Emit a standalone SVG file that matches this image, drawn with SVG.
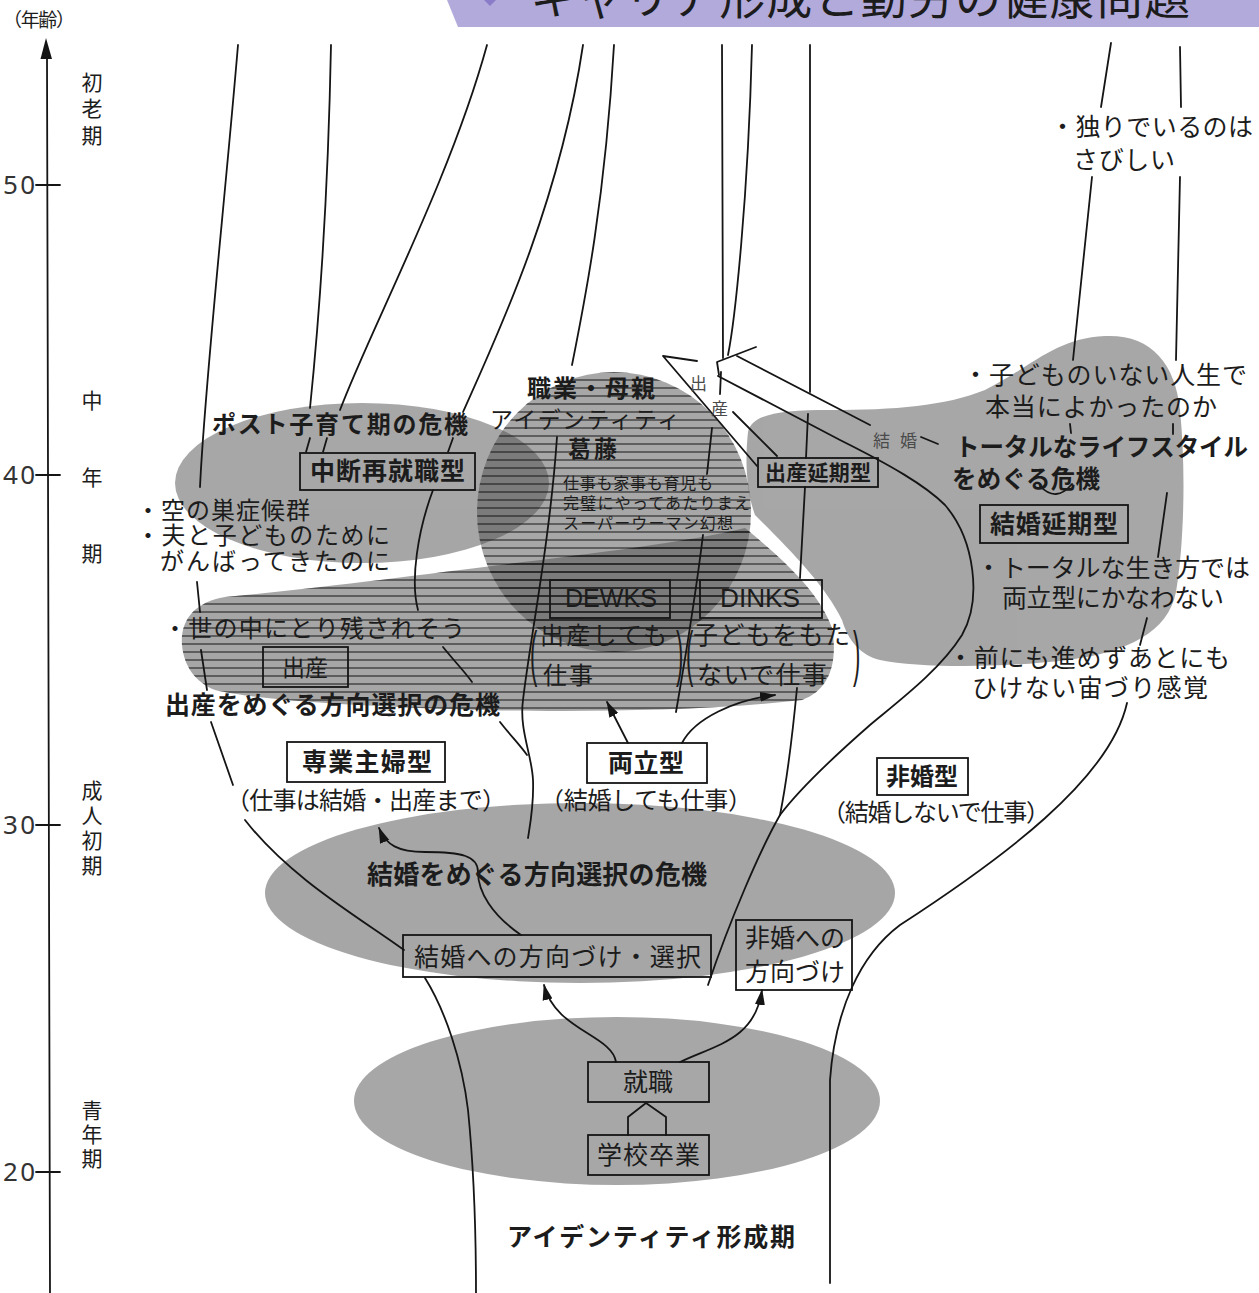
<svg xmlns="http://www.w3.org/2000/svg" xmlns:xlink="http://www.w3.org/1999/xlink" width="1259" height="1293" viewBox="0 0 1259 1293">
<defs>
<style>
.t{font-family:"Noto Sans CJK JP","Noto Sans CJK SC",sans-serif;fill:#1c1c1c}
.b{font-weight:bold}
.s{fill:#4a4a4a}
.n{font-family:"Noto Sans","Liberation Sans",sans-serif;fill:#333}
.lat{font-family:"Liberation Sans",Arial,sans-serif;fill:#1c1c1c}
.ln{fill:none;stroke:#151515;stroke-width:1.8;stroke-linecap:round;stroke-linejoin:round}
.ar{marker-end:url(#ah)}
.bx{fill:none;stroke:#151515;stroke-width:1.8}
</style>
<marker id="ah" viewBox="0 0 16 10" refX="15" refY="5" markerWidth="16" markerHeight="11" orient="auto" markerUnits="userSpaceOnUse"><path d="M0,0 L16,5 L0,10 Z" fill="#151515"/></marker>
<pattern id="hatch" width="12" height="8" patternUnits="userSpaceOnUse"><line x1="0" y1="4" x2="12" y2="4" stroke="#111" stroke-width="1.15" stroke-opacity="0.85"/></pattern>
<ellipse id="circ" cx="614" cy="512" rx="137" ry="140"/>
<path id="band" d="M182,645 C180,620 195,602 225,597 C320,588 420,575 500,565 C580,555 690,542 745,528 C790,565 820,595 832,628 C838,662 830,690 802,700 C700,712 560,712 480,710 C380,707 260,701 215,690 C195,682 184,666 182,645 Z"/>
</defs>
<rect width="1259" height="1293" fill="#ffffff"/>

<g id="title">
<polygon points="447,0 1259,0 1259,27 458,27" fill="#b2aadb"/>
<polygon points="484,0 496,0 490,6" fill="#8a7cc8"/>
<text class="t" x="530" y="14" font-size="46" textLength="660" lengthAdjust="spacing" fill="#1a1a1a">キャリア形成と勤労の健康問題</text>
</g>

<g id="zones">
<g opacity="0.5" fill="#4f4f4f">
<ellipse cx="362" cy="483" rx="187" ry="80"/>
<use xlink:href="#band"/>
<path d="M748,432 C752,414 780,410 830,410 C895,410 945,406 985,390 C1030,368 1055,338 1105,336 C1150,334 1175,362 1180,410 C1186,470 1184,545 1176,592 C1168,632 1128,652 1068,660 C1000,668 920,668 880,660 C860,655 848,640 842,620 C825,585 790,550 755,515 C746,490 745,460 748,432 Z"/>
<ellipse cx="580" cy="893" rx="315" ry="90"/>
<ellipse cx="617" cy="1101" rx="263" ry="84"/>
</g>
<g opacity="0.5" fill="#4f4f4f"><use xlink:href="#circ"/></g>
<g fill="url(#hatch)"><use xlink:href="#circ"/><use xlink:href="#band"/></g>
</g>

<g id="axis">
<path class="ln" d="M47,56 L50,1293"/>
<polygon points="46,38 40.5,59 52,59" fill="#151515"/>
<path class="ln" d="M36,185 L60,185 M36,475 L60,475 M36,825 L60,825 M36,1172 L60,1172"/>
<text class="t" x="3" y="27" font-size="19" textLength="72" lengthAdjust="spacing">（年齢）</text>
<text class="n" x="3" y="194" font-size="26" textLength="32" lengthAdjust="spacing">50</text>
<text class="n" x="3" y="484" font-size="26" textLength="32" lengthAdjust="spacing">40</text>
<text class="n" x="3" y="834" font-size="26" textLength="32" lengthAdjust="spacing">30</text>
<text class="n" x="3" y="1181" font-size="26" textLength="32" lengthAdjust="spacing">20</text>
<text class="t" font-size="21" text-anchor="middle"><tspan x="92" y="90">初</tspan><tspan x="92" y="116">老</tspan><tspan x="92" y="143">期</tspan></text>
<text class="t" font-size="21" text-anchor="middle"><tspan x="92" y="408">中</tspan><tspan x="92" y="485">年</tspan><tspan x="92" y="561">期</tspan></text>
<text class="t" font-size="21" text-anchor="middle"><tspan x="92" y="798">成</tspan><tspan x="92" y="823">人</tspan><tspan x="92" y="848">初</tspan><tspan x="92" y="873">期</tspan></text>
<text class="t" font-size="21" text-anchor="middle"><tspan x="92" y="1118">青</tspan><tspan x="92" y="1142">年</tspan><tspan x="92" y="1166">期</tspan></text>
</g>

<g id="connectors">
<path class="ln" d="M238,45 C225,200 205,380 200,487"/>
<path class="ln" d="M197,582 L200,612"/>
<path class="ln" d="M201,650 L207,690"/>
<path class="ln" d="M211,722 L233,785"/>
<path class="ln" d="M245,820 C290,878 360,918 404,950"/>
<path class="ln" d="M425,978 C445,1010 462,1060 468,1110 C474,1170 476,1230 476,1293"/>
<path class="ln" d="M331,45 C328,200 318,330 310,408"/>
<path class="ln" d="M310,438 L306,452"/>
<path class="ln" d="M487,45 C450,180 370,330 340,410"/>
<path class="ln" d="M327,438 L323,452"/>
<path class="ln" d="M583,45 C560,200 500,330 463,412"/>
<path class="ln" d="M453,438 L448,452"/>
<path class="ln" d="M433,490 C418,530 410,580 418,610"/>
<path class="ln" d="M443,647 C455,662 465,672 472,682"/>
<path class="ln" d="M500,722 C510,735 520,745 527,755"/>
<path class="ln" d="M614,45 C605,200 585,300 572,365"/>
<path class="ln" d="M557,437 C550,540 530,640 523,700 C519,730 532,755 533,780 C534,805 530,825 528,838"/>
<path class="ln" d="M722,45 L723,358"/>
<path class="ln" d="M752,45 C748,200 735,320 728,355"/>
<path class="ln" d="M756,347 L717,362 L719,375"/>
<path class="ln" d="M737,356 L870,425"/>
<path class="ln" d="M921,437 L938,444"/>
<path class="ln" d="M721,372 L720,394"/>
<path class="ln" d="M712,428 L707,474"/>
<path class="ln" d="M703,535 C695,600 685,660 676,712"/>
<path class="ln" d="M718,376 L840,440 C890,465 925,485 945,505 C975,540 982,600 962,635 C940,670 900,700 870,725 C830,760 795,795 780,815 C760,850 730,920 708,985"/>
<path class="ln" d="M697,361 L663,356 L757,466"/>
<path class="ln" d="M733,412 L777,456"/>
<path class="ln" d="M810,45 L810,392"/>
<path class="ln" d="M808,414 L806,458"/>
<path class="ln" d="M805,487 L800,578"/>
<path class="ln" d="M797,688 C792,740 785,790 780,815"/>
<path class="ln" d="M1111,43 L1101,107"/>
<path class="ln" d="M1092,177 L1073,360"/>
<path class="ln" d="M1070,424 L1071,433"/>
<path class="ln" d="M1040,486 Q1056,503 1072,484"/>
<path class="ln" d="M1180,47 L1181,107"/>
<path class="ln" d="M1180,177 L1176,360"/>
<path class="ln" d="M1173,424 L1173,434"/>
<path class="ln" d="M1167,493 L1158,557"/>
<path class="ln" d="M1147,618 L1140,645"/>
<path class="ln" d="M1127,703 C1110,780 1000,860 900,925 C860,955 835,1010 830,1080 L830,1283"/>
<path class="ln ar" d="M628,743 L607,702"/>
<path class="ln ar" d="M682,743 C695,718 735,700 775,695"/>
<path class="ln ar" d="M521,935 C492,915 478,892 478,872 C478,856 462,852 425,852 C398,852 386,845 379,828"/>
<path class="ln ar" d="M616,1062 C612,1035 555,1030 544,985"/>
<path class="ln ar" d="M680,1062 C715,1045 755,1040 762,990"/>
<path class="ln" d="M628,1135 L628,1117 L646,1103 L666,1117 L666,1135"/>
</g>

<g id="post-childcare-crisis">
<text class="t b" x="212" y="433" font-size="24" textLength="256" lengthAdjust="spacing">ポスト子育て期の危機</text>
</g>
<g id="chudan">
<rect class="bx" x="300" y="453" width="175" height="37"/>
<text class="t b" x="310" y="480" font-size="25" textLength="155" lengthAdjust="spacing">中断再就職型</text>
</g>
<g id="empty-nest">
<text class="t" x="136" y="519" font-size="24" textLength="174" lengthAdjust="spacing">・空の巣症候群</text>
<text class="t" x="136" y="544" font-size="24" textLength="254" lengthAdjust="spacing">・夫と子どものために</text>
<text class="t" x="160" y="570" font-size="24" textLength="230" lengthAdjust="spacing">がんばってきたのに</text>
</g>
<g id="left-behind">
<text class="t" x="163" y="637" font-size="24" textLength="302" lengthAdjust="spacing">・世の中にとり残されそう</text>
</g>
<g id="shussan">
<rect class="bx" x="263" y="647" width="85" height="40"/>
<text class="t" x="282" y="676" font-size="23" textLength="46" lengthAdjust="spacing">出産</text>
</g>
<g id="birth-crisis">
<text class="t b" x="165" y="714" font-size="25" textLength="335" lengthAdjust="spacing">出産をめぐる方向選択の危機</text>
</g>
<g id="identity-conflict">
<text class="t b" x="527" y="397" font-size="24" textLength="128" lengthAdjust="spacing">職業・母親</text>
<text class="t" x="490" y="428" font-size="23" textLength="190" lengthAdjust="spacing">アイデンティティ</text>
<text class="t b" x="568" y="457" font-size="23" textLength="49" lengthAdjust="spacing">葛藤</text>
<text class="t" x="563" y="489" font-size="16" textLength="150" lengthAdjust="spacing">仕事も家事も育児も</text>
<text class="t" x="563" y="509" font-size="16" textLength="187" lengthAdjust="spacing">完璧にやってあたりまえ</text>
<text class="t" x="563" y="529" font-size="16" textLength="170" lengthAdjust="spacing">スーパーウーマン幻想</text>
</g>
<g id="dewks">
<rect class="bx" x="550" y="580" width="120" height="38"/>
<text class="lat" x="565" y="607" font-size="25" textLength="92" lengthAdjust="spacingAndGlyphs">DEWKS</text>
<text class="lat" transform="translate(530,674) scale(1,2.8)" font-size="22">(</text>
<text class="t" x="540" y="644" font-size="24" textLength="127" lengthAdjust="spacing">出産しても</text>
<text class="t" x="543" y="684" font-size="24" textLength="50" lengthAdjust="spacing">仕事</text>
<text class="lat" transform="translate(676,674) scale(1,2.8)" font-size="22">)</text>
</g>
<g id="dinks">
<rect class="bx" x="700" y="580" width="122" height="38"/>
<text class="lat" x="720" y="607" font-size="25" textLength="80" lengthAdjust="spacingAndGlyphs">DINKS</text>
<text class="lat" transform="translate(686,674) scale(1,2.8)" font-size="22">(</text>
<text class="t" x="693" y="644" font-size="25" textLength="157" lengthAdjust="spacing">子どもをもた</text>
<text class="t" x="697" y="684" font-size="25" textLength="130" lengthAdjust="spacing">ないで仕事</text>
<text class="lat" transform="translate(853,674) scale(1,2.8)" font-size="22">)</text>
</g>
<g id="arrow-labels">
<text class="t s" x="690" y="390" font-size="17">出</text>
<text class="t s" x="711" y="415" font-size="17">産</text>
<text class="t s" x="873" y="447" font-size="17" textLength="44" lengthAdjust="spacing">結婚</text>
</g>
<g id="shussan-enki">
<rect class="bx" x="758" y="458" width="120" height="29"/>
<text class="t b" x="765" y="480" font-size="21" textLength="106" lengthAdjust="spacing">出産延期型</text>
</g>
<g id="alone">
<text class="t" x="1050" y="136" font-size="25" textLength="203" lengthAdjust="spacing">・独りでいるのは</text>
<text class="t" x="1073" y="169" font-size="25" textLength="102" lengthAdjust="spacing">さびしい</text>
</g>
<g id="lifestyle-crisis">
<text class="t" x="963" y="384" font-size="25" textLength="284" lengthAdjust="spacing">・子どものいない人生で</text>
<text class="t" x="985" y="416" font-size="25" textLength="232" lengthAdjust="spacing">本当によかったのか</text>
<text class="t b" x="955" y="456" font-size="24.5" textLength="293" lengthAdjust="spacing">トータルなライフスタイル</text>
<text class="t b" x="952" y="488" font-size="24.5" textLength="148" lengthAdjust="spacing">をめぐる危機</text>
<text class="t" x="976" y="577" font-size="25" textLength="274" lengthAdjust="spacing">・トータルな生き方では</text>
<text class="t" x="1002" y="607" font-size="25" textLength="222" lengthAdjust="spacing">両立型にかなわない</text>
<text class="t" x="948" y="667" font-size="25" textLength="282" lengthAdjust="spacing">・前にも進めずあとにも</text>
<text class="t" x="972" y="697" font-size="25" textLength="236" lengthAdjust="spacing">ひけない宙づり感覚</text>
</g>
<g id="kekkon-enki">
<rect class="bx" x="980" y="505" width="148" height="38"/>
<text class="t b" x="990" y="533" font-size="25" textLength="128" lengthAdjust="spacing">結婚延期型</text>
</g>
<g id="sengyo">
<rect class="bx" x="287" y="742" width="158" height="40"/>
<text class="t b" x="302" y="771" font-size="25" textLength="130" lengthAdjust="spacing">専業主婦型</text>
<text class="t" x="226" y="809" font-size="24" textLength="280" lengthAdjust="spacing">（仕事は結婚・出産まで）</text>
</g>
<g id="ryoritsu">
<rect class="bx" x="587" y="743" width="120" height="40"/>
<text class="t b" x="608" y="772" font-size="25" textLength="76" lengthAdjust="spacing">両立型</text>
<text class="t" x="540" y="809" font-size="24" textLength="212" lengthAdjust="spacing">（結婚しても仕事）</text>
</g>
<g id="hikon">
<rect class="bx" x="877" y="758" width="91" height="37"/>
<text class="t b" x="922" y="785" font-size="24" text-anchor="middle">非婚型</text>
<text class="t" x="822" y="821" font-size="24" textLength="228" lengthAdjust="spacing">（結婚しないで仕事）</text>
</g>
<g id="marriage-crisis">
<text class="t b" x="367" y="884" font-size="26" textLength="340" lengthAdjust="spacing">結婚をめぐる方向選択の危機</text>
</g>
<g id="kekkon-muke">
<rect class="bx" x="403" y="935" width="308" height="42"/>
<text class="t" x="414" y="966" font-size="25" textLength="287" lengthAdjust="spacing">結婚への方向づけ・選択</text>
</g>
<g id="hikon-muke">
<rect class="bx" x="736" y="920" width="116" height="70"/>
<text class="t" x="745" y="947" font-size="25" textLength="100" lengthAdjust="spacing">非婚への</text>
<text class="t" x="745" y="981" font-size="25" textLength="100" lengthAdjust="spacing">方向づけ</text>
</g>
<g id="shushoku">
<rect class="bx" x="588" y="1062" width="121" height="40"/>
<text class="t" x="648" y="1091" font-size="25" text-anchor="middle">就職</text>
</g>
<g id="sotsugyo">
<rect class="bx" x="588" y="1135" width="121" height="40"/>
<text class="t" x="597" y="1164" font-size="25" textLength="103" lengthAdjust="spacing">学校卒業</text>
</g>
<g id="identity-formation">
<text class="t b" x="507" y="1246" font-size="25" textLength="288" lengthAdjust="spacing">アイデンティティ形成期</text>
</g>
</svg>
